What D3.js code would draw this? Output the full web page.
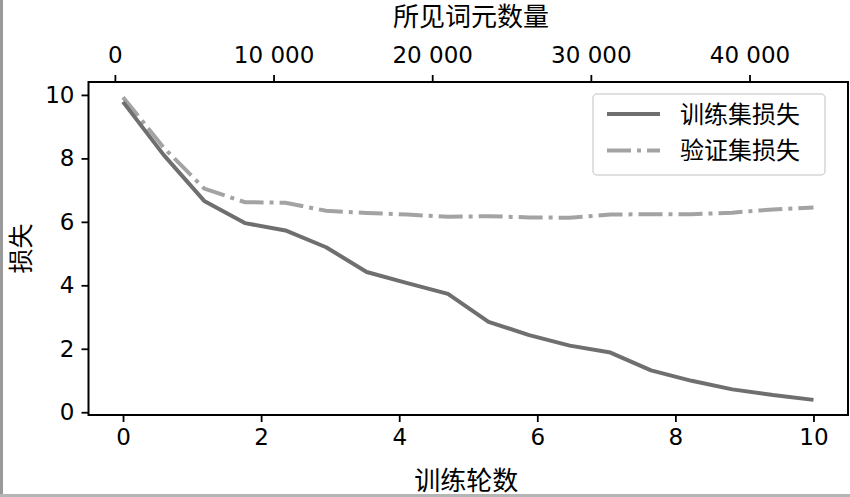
<!DOCTYPE html>
<html>
<head>
<meta charset="utf-8">
<script src="https://cdn.jsdelivr.net/npm/d3@7"></script>
<style>
  html, body { margin: 0; padding: 0; background: #fff; }
  svg { display: block; }
</style>
</head>
<body>
<svg id="chart" width="850" height="497"></svg>
<script>
// ---- data ----
const epochs = [0, 0.588, 1.176, 1.765, 2.353, 2.941, 3.529, 4.118, 4.706, 5.294, 5.882, 6.471, 7.059, 7.647, 8.235, 8.824, 9.412, 10];
const tokensSeen = [512, 3072, 5632, 8192, 10752, 13312, 15872, 18432, 20992, 23552, 26112, 28672, 31232, 33792, 36352, 38912, 41472, 44032];
const trainLoss = [9.78, 8.11, 6.66, 5.96, 5.73, 5.20, 4.42, 4.07, 3.73, 2.85, 2.43, 2.10, 1.88, 1.32, 0.99, 0.72, 0.54, 0.39];
const valLoss = [9.93, 8.34, 7.05, 6.62, 6.60, 6.35, 6.28, 6.23, 6.16, 6.18, 6.14, 6.13, 6.23, 6.24, 6.24, 6.29, 6.39, 6.45];
const xTicks = [0, 2, 4, 6, 8, 10];
const yTicks = [0, 2, 4, 6, 8, 10];
const topTicks = [0, 10000, 20000, 30000, 40000];
const topTickLabels = ["0", "10 000", "20 000", "30 000", "40 000"];
const seriesNames = ["训练集损失", "验证集损失"];
const xLabel = "训练轮数";
const yLabel = "损失";
const topLabel = "所见词元数量";

// ---- layout ----
const L = 88.5, R = 848, T = 82, B = 415;
const svg = d3.select("#chart");
const latin = "'DejaVu Sans', sans-serif";
const cjk = "'Noto Sans CJK SC', 'DejaVu Sans', sans-serif";
const cjkCompact = "'DejaVu Sans', 'Noto Sans CJK SC', sans-serif";

function padded(arr) {
  const [a, b] = d3.extent(arr);
  const m = (b - a) * 0.05;
  return [a - m, b + m];
}
const x = d3.scaleLinear().domain(padded(epochs)).range([L, R]);
const xTop = d3.scaleLinear().domain(padded(tokensSeen)).range([L, R]);
const y = d3.scaleLinear().domain(padded(trainLoss.concat(valLoss))).range([B, T]);

// scan artifacts (border)
svg.append("rect").attr("x", 0).attr("y", 0).attr("width", 3).attr("height", 497).attr("fill", "#9a9a9a");
svg.append("rect").attr("x", 0).attr("y", 494).attr("width", 850).attr("height", 3).attr("fill", "#b5b5b5");

// clip
svg.append("clipPath").attr("id", "clip").append("rect")
  .attr("x", L).attr("y", T).attr("width", R - L).attr("height", B - T);

const g = svg.append("g").attr("clip-path", "url(#clip)");
const line = (vals) => d3.line().x((d, i) => x(epochs[i])).y(d => y(d))(vals);
const dashDot = "24,6,4,6";

g.append("path").attr("d", line(valLoss))
  .attr("fill", "none").attr("stroke", "#a3a3a3").attr("stroke-width", 4)
  .attr("stroke-dasharray", dashDot);
g.append("path").attr("d", line(trainLoss))
  .attr("fill", "none").attr("stroke", "#6f6f6f").attr("stroke-width", 4)
  .attr("stroke-linejoin", "round");

// axes
const axStyle = (sel) => {
  sel.select(".domain").remove();
  sel.selectAll(".tick line").attr("stroke", "#000").attr("stroke-width", 1.8);
  sel.selectAll(".tick text").attr("fill", "#000").style("font-family", latin).style("font-size", "23px");
};
svg.append("g").attr("transform", `translate(0,${B})`)
  .call(d3.axisBottom(x).tickValues(xTicks).tickFormat(d3.format("d")).tickSize(7).tickPadding(7))
  .call(axStyle);
svg.append("g").attr("transform", `translate(${L},0)`)
  .call(d3.axisLeft(y).tickValues(yTicks).tickFormat(d3.format("d")).tickSize(7).tickPadding(7))
  .call(axStyle);
svg.append("g").attr("transform", `translate(0,${T})`)
  .call(d3.axisTop(xTop).tickValues(topTicks).tickFormat((d, i) => topTickLabels[i]).tickSize(7).tickPadding(12))
  .call(axStyle);

// frame
svg.append("rect").attr("x", L).attr("y", T).attr("width", R - L).attr("height", B - T)
  .attr("fill", "none").attr("stroke", "#000").attr("stroke-width", 2);

// labels
svg.append("text").attr("x", (L + R) / 2 - 2).attr("y", 490).attr("text-anchor", "middle")
  .style("font-family", cjk).style("font-size", "26px").attr("fill", "#000").text(xLabel);
svg.append("text").attr("transform", `translate(30,${(T + B) / 2}) rotate(-90)`).attr("text-anchor", "middle")
  .style("font-family", cjk).style("font-size", "25px").attr("fill", "#000").text(yLabel);
svg.append("text").attr("x", 471).attr("y", 26).attr("text-anchor", "middle")
  .style("font-family", cjkCompact).style("font-size", "26px").attr("fill", "#000").text(topLabel);

// legend
const lg = svg.append("g");
lg.append("rect").attr("x", 593).attr("y", 94).attr("width", 232).attr("height", 81).attr("rx", 4)
  .attr("fill", "#fff").attr("fill-opacity", 0.8).attr("stroke", "#d6d6d6").attr("stroke-width", 1.5);
const legendItems = [
  { name: seriesNames[0], color: "#6f6f6f", dash: null },
  { name: seriesNames[1], color: "#a3a3a3", dash: dashDot }
];
legendItems.forEach((it, i) => {
  const yy = 114 + i * 36.5;
  lg.append("line").attr("x1", 607).attr("x2", 660).attr("y1", yy).attr("y2", yy)
    .attr("stroke", it.color).attr("stroke-width", 4)
    .attr("stroke-dasharray", it.dash);
  lg.append("text").attr("x", 680).attr("y", yy).attr("dy", "0.36em")
    .style("font-family", cjk).style("font-size", "24px").attr("fill", "#000").text(it.name);
});
</script>
</body>
</html>
